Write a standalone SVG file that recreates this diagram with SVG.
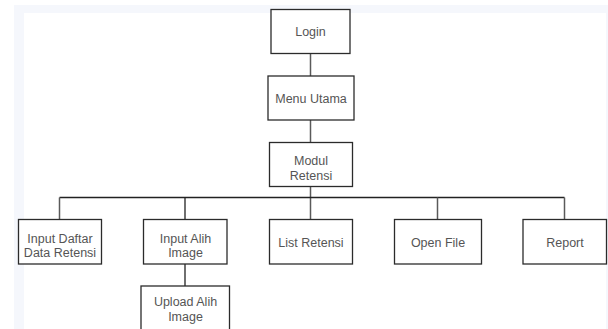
<svg xmlns="http://www.w3.org/2000/svg" width="608" height="329" viewBox="0 0 608 329">
  <style>
    .box { fill: #ffffff; stroke: #2b2b2b; stroke-width: 1.3; }
    .lbl { font-family: "Liberation Sans", Arial, sans-serif; font-size: 12.5px; fill: #555555; text-anchor: middle; }
    .wire { fill: none; stroke: #5a5a5a; stroke-width: 1.5; }
    .wire-dark { fill: none; stroke: #222222; stroke-width: 1.3; }
  </style>

  <!-- page background with a faint frame -->
  <rect x="0" y="0" width="608" height="329" fill="#ffffff"/>
  <rect x="14" y="5" width="594" height="324" fill="#f5f7fc"/>
  <rect x="24" y="13" width="582" height="316" fill="#ffffff"/>

  <!-- connectors -->
  <g id="connectors">
    <line class="wire" x1="310.5" y1="53" x2="310.5" y2="76"/>
    <line class="wire" x1="310.5" y1="120" x2="310.5" y2="142"/>
    <line class="wire" x1="310.5" y1="187" x2="310.5" y2="219"/>
    <line class="wire-dark" x1="59.5" y1="197.5" x2="564.5" y2="197.5"/>
    <line class="wire" x1="59.5" y1="197.5" x2="59.5" y2="219"/>
    <line class="wire-dark" x1="185" y1="197.5" x2="185" y2="219"/>
    <line class="wire" x1="437.5" y1="197.5" x2="437.5" y2="219"/>
    <line class="wire" x1="564.5" y1="197.5" x2="564.5" y2="219"/>
    <line class="wire-dark" x1="185" y1="264" x2="185" y2="286"/>
  </g>

  <g id="login">
    <rect class="box" x="271" y="9.5" width="79" height="44"/>
    <text class="lbl" x="310.5" y="35.5">Login</text>
  </g>

  <g id="menu-utama">
    <rect class="box" x="268" y="76" width="86" height="44"/>
    <text class="lbl" x="311" y="102.5">Menu Utama</text>
  </g>

  <g id="modul-retensi">
    <rect class="box" x="269.5" y="142.5" width="83" height="44"/>
    <text class="lbl" x="311" y="164.5">Modul</text>
    <text class="lbl" x="311" y="179.5">Retensi</text>
  </g>

  <g id="input-daftar">
    <rect class="box" x="18.5" y="219.5" width="83" height="44.5"/>
    <text class="lbl" x="60" y="242.5">Input Daftar</text>
    <text class="lbl" x="60" y="256.5">Data Retensi</text>
  </g>

  <g id="input-alih">
    <rect class="box" x="143.5" y="219.5" width="83.5" height="44.5"/>
    <text class="lbl" x="185.5" y="242.5">Input Alih</text>
    <text class="lbl" x="185.5" y="256.5">Image</text>
  </g>

  <g id="list-retensi">
    <rect class="box" x="269.5" y="219.5" width="83" height="44.5"/>
    <text class="lbl" x="311" y="246.5">List Retensi</text>
  </g>

  <g id="open-file">
    <rect class="box" x="394.5" y="219.5" width="87" height="44.5"/>
    <text class="lbl" x="438" y="246.5">Open File</text>
  </g>

  <g id="report">
    <rect class="box" x="523" y="219.5" width="83.5" height="44.5"/>
    <text class="lbl" x="565" y="246.5">Report</text>
  </g>

  <g id="upload-alih">
    <rect class="box" x="141" y="286" width="88.5" height="50"/>
    <text class="lbl" x="185.5" y="306">Upload Alih</text>
    <text class="lbl" x="185.5" y="320.5">Image</text>
  </g>
</svg>
